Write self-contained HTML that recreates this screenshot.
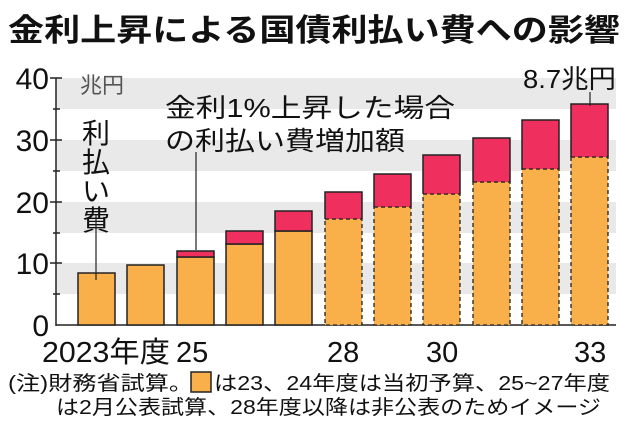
<!DOCTYPE html>
<html><head><meta charset="utf-8"><style>
html,body{margin:0;padding:0;background:#fff;}
svg{display:block;font-family:"Liberation Sans","Noto Sans CJK JP",sans-serif;}
</style></head><body>
<svg width="630" height="441" viewBox="0 0 630 441" xmlns="http://www.w3.org/2000/svg">
<rect width="630" height="441" fill="#fff"/>
<text x="8" y="41" font-size="31" font-weight="bold" fill="#111" textLength="612" lengthAdjust="spacingAndGlyphs">金利上昇による国債利払い費への影響</text>
<g fill="#e9e9e9">
<rect x="56" y="78" width="560" height="31"/>
<rect x="56" y="140" width="560" height="31"/>
<rect x="56" y="202" width="560" height="31"/>
<rect x="56" y="263" width="560" height="31"/>
</g>
<g stroke="#222" stroke-width="1.5">
<line x1="56" y1="78" x2="56" y2="326"/>
<line x1="56" y1="325" x2="616" y2="325"/>
<line x1="50" y1="78" x2="62" y2="78"/>
<line x1="50" y1="140" x2="62" y2="140"/>
<line x1="50" y1="202" x2="62" y2="202"/>
<line x1="50" y1="263" x2="62" y2="263"/>
<line x1="53" y1="109" x2="60" y2="109"/>
<line x1="53" y1="171" x2="60" y2="171"/>
<line x1="53" y1="233" x2="60" y2="233"/>
<line x1="53" y1="294" x2="60" y2="294"/>
</g>
<g font-size="30" fill="#111" text-anchor="end">
<text x="49" y="89">40</text>
<text x="49" y="151">30</text>
<text x="49" y="213">20</text>
<text x="49" y="274">10</text>
<text x="49" y="336">0</text>
</g>
<text x="80" y="93" font-size="22" fill="#555">兆円</text>
<g stroke="#222" stroke-width="1.5">
<rect x="78" y="273" width="37" height="52" fill="#f9b04a"/>
<rect x="127" y="265" width="37" height="60" fill="#f9b04a"/>
<rect x="177" y="257" width="37" height="68" fill="#f9b04a"/>
<rect x="177" y="251" width="37" height="6" fill="#ef2f5e"/>
<rect x="226" y="244" width="37" height="81" fill="#f9b04a"/>
<rect x="226" y="231" width="37" height="13" fill="#ef2f5e"/>
<rect x="275" y="231" width="37" height="94" fill="#f9b04a"/>
<rect x="275" y="211" width="37" height="20" fill="#ef2f5e"/>
</g>
<g stroke="#222" stroke-width="1.3">
<rect x="325" y="219" width="37" height="106" fill="#f9b04a" stroke-dasharray="4,3"/>
<rect x="374" y="207" width="37" height="118" fill="#f9b04a" stroke-dasharray="4,3"/>
<rect x="423" y="194" width="37" height="131" fill="#f9b04a" stroke-dasharray="4,3"/>
<rect x="473" y="182" width="37" height="143" fill="#f9b04a" stroke-dasharray="4,3"/>
<rect x="522" y="169" width="37" height="156" fill="#f9b04a" stroke-dasharray="4,3"/>
<rect x="571" y="157" width="37" height="168" fill="#f9b04a" stroke-dasharray="4,3"/>
<path d="M325 219V192H362V219M374 207V174H411V207M423 194V155H460V194M473 182V138H510V182M522 169V120H559V169M571 157V104H608V157" fill="#ef2f5e" stroke-width="1.5"/>
<path d="M325 219H362M374 207H411M423 194H460M473 182H510M522 169H559M571 157H608" stroke-dasharray="4,3"/>
</g>
<g stroke="#222" stroke-width="1.2">
<line x1="96" y1="215" x2="96" y2="280"/>
<line x1="196" y1="152" x2="196" y2="250"/>
<line x1="590" y1="92" x2="590" y2="106"/>
</g>
<g font-size="28" fill="#111" text-anchor="middle">
<text x="96" y="143">利</text>
<text x="96" y="172">払</text>
<text x="96" y="201">い</text>
<text x="96" y="230">費</text>
</g>
<text x="165" y="117" font-size="26" fill="#111" textLength="290" lengthAdjust="spacingAndGlyphs">金利1%上昇した場合</text>
<text x="165" y="150" font-size="26" fill="#111" textLength="240" lengthAdjust="spacingAndGlyphs">の利払い費増加額</text>
<text x="523" y="88" font-size="26" fill="#111" textLength="93" lengthAdjust="spacingAndGlyphs">8.7兆円</text>
<g font-size="29" fill="#111">
<text x="42" y="362" textLength="128" lengthAdjust="spacingAndGlyphs">2023年度</text>
<text x="176" y="362">25</text>
<text x="327" y="362">28</text>
<text x="426" y="362">30</text>
<text x="574" y="362">33</text>
</g>
<g font-size="20" fill="#111">
<text x="8" y="390" textLength="185" lengthAdjust="spacingAndGlyphs">(注)財務省試算。</text>
<rect x="191" y="372" width="20" height="20" fill="#f9b04a" stroke="#222" stroke-width="1.5"/>
<text x="214" y="390" textLength="396" lengthAdjust="spacingAndGlyphs">は23、24年度は当初予算、25~27年度</text>
<text x="56" y="414" textLength="545" lengthAdjust="spacingAndGlyphs">は2月公表試算、28年度以降は非公表のためイメージ</text>
</g>
</svg>
</body></html>
